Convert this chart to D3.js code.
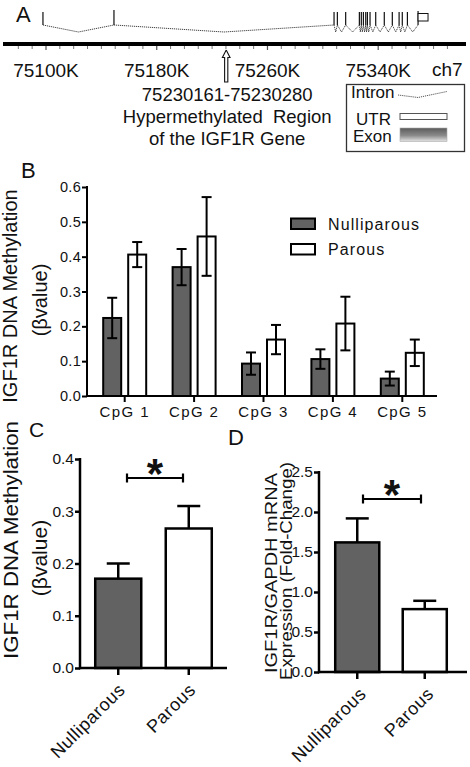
<!DOCTYPE html>
<html><head><meta charset="utf-8">
<script src="https://cdn.jsdelivr.net/npm/d3@7"></script>
<style>
body{margin:0;background:#fff}
svg{display:block}
text{font-family:"Liberation Sans",Arial,sans-serif;fill:#111}
</style>
</head><body>
<svg id="c" width="470" height="767"></svg>
<script>
// ---------- Panel A data (genomic positions, K = kb on ch7) ----------
const exonPositionsK = [75097.8, 75149.1, 75308.1, 75310.5, 75316.5, 75326.4, 75327.8, 75329.3,
  75331.0, 75332.2, 75334.1, 75338.2, 75344.4, 75350.2, 75355.1, 75357.4, 75361.1];
const utrRangeK = [75368.8, 75376.0];
const regionK = 75230.2;
const regionLines = ["75230161-75230280", "Hypermethylated  Region", "of the IGF1R Gene"];
const majorTicksK = [75100, 75180, 75260, 75340];
const minorTicksK = [75080, 75090, 75110, 75120, 75130, 75140, 75150, 75160, 75170, 75190, 75200,
  75210, 75220, 75230, 75240, 75250, 75270, 75280, 75290, 75300, 75310, 75320, 75330, 75350,
  75360, 75370, 75380, 75390];
const chromLabel = "ch7";
const legendItemsA = ["Intron", "UTR", "Exon"];

// ---------- Panel B data ----------
const cpgSites = ["CpG 1", "CpG 2", "CpG 3", "CpG 4", "CpG 5"];
const seriesNames = ["Nulliparous", "Parous"];
const nulliparousMeans = [0.224, 0.370, 0.093, 0.106, 0.050];
const nulliparousSE = [0.058, 0.052, 0.032, 0.028, 0.020];
const parousMeans = [0.406, 0.458, 0.162, 0.208, 0.124];
const parousSE = [0.036, 0.113, 0.042, 0.077, 0.038];
const bTicks = [0, 0.1, 0.2, 0.3, 0.4, 0.5, 0.6];

// ---------- Panel C data ----------
const groupNames = ["Nulliparous", "Parous"];
const cMeans = [0.171, 0.267];
const cSE = [0.029, 0.043];
const cTicks = [0, 0.1, 0.2, 0.3, 0.4];

// ---------- Panel D data ----------
const dMeans = [1.62, 0.786];
const dSE = [0.30, 0.104];
const dTicks = [0, 0.5, 1.0, 1.5, 2.0, 2.5];

const DARK = "#626262";
const svg = d3.select("#c");

function panelLabel(t, x, y, fs) {
  svg.append("text").attr("x", x).attr("y", y).attr("font-size", fs).text(t);
}

// =================== Panel A ===================
panelLabel("A", 16, 22, 22);
const gx = d3.scaleLinear().domain([75100, 75340]).range([46, 378.2]);
const gA = svg.append("g");
gA.append("line").attr("x1", 3).attr("x2", 466).attr("y1", 44).attr("y2", 44)
  .attr("stroke", "#000").attr("stroke-width", 4);
gA.selectAll(".mt").data(minorTicksK).enter().append("line")
  .attr("x1", d => gx(d)).attr("x2", d => gx(d)).attr("y1", 46).attr("y2", 49)
  .attr("stroke", "#777").attr("stroke-width", 1);
gA.selectAll(".Mt").data(majorTicksK).enter().append("line")
  .attr("x1", d => gx(d)).attr("x2", d => gx(d)).attr("y1", 46).attr("y2", 50)
  .attr("stroke", "#555").attr("stroke-width", 1.2);
gA.selectAll(".ml").data(majorTicksK).enter().append("text")
  .attr("x", d => gx(d)).attr("y", 77).attr("text-anchor", "middle").attr("font-size", 19)
  .text(d => d + "K");
gA.append("text").attr("x", 432).attr("y", 76).attr("font-size", 19).text(chromLabel);

// gene model
const exonTop = 12, exonBot = 25, intronDip = 32;
const exonXs = exonPositionsK.map(gx);
const utrX0 = gx(utrRangeK[0]), utrX1 = gx(utrRangeK[1]);
const allStarts = exonXs.concat([utrX0]);
const intronPts = [];
for (let i = 0; i < allStarts.length - 1; i++) {
  const a = allStarts[i], b = allStarts[i + 1];
  intronPts.push([[a, exonBot], [(a + b) / 2, intronDip], [b, exonBot]]);
}
gA.selectAll(".intr").data(intronPts).enter().append("path")
  .attr("d", d => d3.line()(d)).attr("fill", "none").attr("stroke", "#444")
  .attr("stroke-width", 1).attr("stroke-dasharray", "1.2,0.8");
gA.selectAll(".ex").data(exonXs).enter().append("line")
  .attr("x1", d => d).attr("x2", d => d).attr("y1", (d, i) => i === 1 ? 10 : exonTop).attr("y2", exonBot)
  .attr("stroke", "#111").attr("stroke-width", 1.2);
gA.append("line").attr("x1", utrX0).attr("x2", utrX0).attr("y1", 11).attr("y2", 25)
  .attr("stroke", "#111").attr("stroke-width", 1.2);
gA.append("rect").attr("x", utrX0).attr("y", 13.5).attr("width", utrX1 - utrX0).attr("height", 7.5)
  .attr("fill", "#fff").attr("stroke", "#111").attr("stroke-width", 1);

// arrow (hollow) pointing to region
const ax = gx(regionK);
gA.append("path")
  .attr("d", d3.line()([[ax, 50], [ax + 3.8, 57.5], [ax + 1.6, 57.5], [ax + 1.6, 82], [ax - 1.6, 82], [ax - 1.6, 57.5], [ax - 3.8, 57.5], [ax, 50]]))
  .attr("fill", "#fff").attr("stroke", "#111").attr("stroke-width", 1.1);
regionLines.forEach((t, i) => {
  gA.append("text").attr("x", ax + 1).attr("y", 101 + i * 22).attr("text-anchor", "middle")
    .attr("font-size", 18.5).style("white-space", "pre").text(t);
});

// legend box
const defs = svg.append("defs");
const grad = defs.append("linearGradient").attr("id", "exg").attr("x1", 0).attr("y1", 0).attr("x2", 0).attr("y2", 1);
grad.append("stop").attr("offset", "0").attr("stop-color", "#5a5a5a");
grad.append("stop").attr("offset", "0.55").attr("stop-color", "#8a8a8a");
grad.append("stop").attr("offset", "1").attr("stop-color", "#e4e4e4");
gA.append("rect").attr("x", 346.5).attr("y", 84.5).attr("width", 118).attr("height", 67)
  .attr("fill", "#fff").attr("stroke", "#333").attr("stroke-width", 1.3);
const legY = [98, 124.5, 142];
const legX = [351, 356, 353];
legendItemsA.forEach((t, i) => {
  gA.append("text").attr("x", legX[i]).attr("y", legY[i]).attr("font-size", 17).text(t);
});
gA.append("path").attr("d", d3.line()([[398, 95], [418, 97.5], [447, 91.5]]))
  .attr("fill", "none").attr("stroke", "#555").attr("stroke-width", 1).attr("stroke-dasharray", "1.2,0.9");
gA.append("rect").attr("x", 400).attr("y", 113.5).attr("width", 47).attr("height", 6)
  .attr("fill", "#fff").attr("stroke", "#555").attr("stroke-width", 1);
gA.append("rect").attr("x", 400).attr("y", 128).attr("width", 47).attr("height", 13.5)
  .attr("fill", "url(#exg)").attr("stroke", "#aaa").attr("stroke-width", 0.6);

// =================== Panel B ===================
panelLabel("B", 21, 178, 22);
const gB = svg.append("g");
const bx = d3.scaleBand().domain(cpgSites).range([90, 437]);
const bx1 = d3.scaleBand().domain(seriesNames).range([-21.5, 21.5]).paddingInner(0.28);
const by = d3.scaleLinear().domain([0, 0.6]).range([396, 187]);
const bData = cpgSites.map((c, i) => ({
  cat: c,
  vals: [
    { s: seriesNames[0], v: nulliparousMeans[i], e: nulliparousSE[i] },
    { s: seriesNames[1], v: parousMeans[i], e: parousSE[i] }
  ]
}));
const bg = gB.selectAll(".grp").data(bData).enter().append("g")
  .attr("transform", d => `translate(${bx(d.cat) + bx.bandwidth() / 2},0)`);
bg.selectAll("rect").data(d => d.vals).enter().append("rect")
  .attr("x", d => bx1(d.s)).attr("width", bx1.bandwidth())
  .attr("y", d => by(d.v)).attr("height", d => by(0) - by(d.v))
  .attr("fill", d => d.s === "Nulliparous" ? DARK : "#fff")
  .attr("stroke", "#000").attr("stroke-width", 2);
const eb = bg.selectAll(".eb").data(d => d.vals).enter().append("g")
  .attr("transform", d => `translate(${bx1(d.s) + bx1.bandwidth() / 2},0)`);
eb.append("line").attr("x1", 0).attr("x2", 0).attr("y1", d => by(d.v + d.e)).attr("y2", d => by(d.v - d.e))
  .attr("stroke", "#000").attr("stroke-width", 2);
eb.append("line").attr("x1", -5).attr("x2", 5).attr("y1", d => by(d.v + d.e)).attr("y2", d => by(d.v + d.e))
  .attr("stroke", "#000").attr("stroke-width", 2);
eb.append("line").attr("x1", -5).attr("x2", 5).attr("y1", d => by(d.v - d.e)).attr("y2", d => by(d.v - d.e))
  .attr("stroke", "#000").attr("stroke-width", 2);

const yAxB = gB.append("g").attr("transform", "translate(87,0)")
  .call(d3.axisLeft(by).tickValues(bTicks).tickFormat(d3.format(".1f")).tickSize(5).tickSizeOuter(0));
yAxB.select(".domain").remove();
yAxB.selectAll("line").attr("stroke-width", 2);
yAxB.selectAll("text").attr("font-size", 14.5).attr("letter-spacing", 0.3).attr("x", -6).attr("fill", "#111").attr("font-family", null);
gB.append("line").attr("x1", 87).attr("x2", 87).attr("y1", 186).attr("y2", 397).attr("stroke", "#000").attr("stroke-width", 2);
const xAxB = gB.append("g").attr("transform", "translate(0,396)")
  .call(d3.axisBottom(bx).tickSize(6).tickSizeOuter(0));
xAxB.select(".domain").remove();
xAxB.selectAll("line").attr("stroke-width", 2);
xAxB.selectAll("text").attr("font-size", 15).attr("letter-spacing", 1.4).attr("y", 10).attr("fill", "#111").attr("font-family", null);
gB.append("line").attr("x1", 86).attr("x2", 437).attr("y1", 396).attr("y2", 396).attr("stroke", "#000").attr("stroke-width", 2);

seriesNames.forEach((s, i) => {
  gB.append("rect").attr("x", 291).attr("y", 218.5 + i * 25.5).attr("width", 24).attr("height", 10.5)
    .attr("fill", i === 0 ? DARK : "#fff").attr("stroke", "#000").attr("stroke-width", 2);
  gB.append("text").attr("x", 328).attr("y", 230 + i * 25).attr("font-size", 16).attr("letter-spacing", 1.1).text(s);
});
gB.append("text").attr("transform", "translate(17,296) rotate(-90)").attr("text-anchor", "middle")
  .attr("font-size", 20).text("IGF1R DNA Methylation");
gB.append("text").attr("transform", "translate(47,300) rotate(-90)").attr("text-anchor", "middle")
  .attr("font-size", 20).text("(βvalue)");

// =================== Panels C & D ===================
function smallPanel(opt) {
  const g = svg.append("g");
  const x = d3.scaleBand().domain(groupNames).range(opt.xr).paddingInner(0.3475).paddingOuter(opt.po);
  const y = d3.scaleLinear().domain(opt.dom).range(opt.yr);
  const data = groupNames.map((n, i) => ({ n, v: opt.means[i], e: opt.se[i] }));
  g.selectAll("rect").data(data).enter().append("rect")
    .attr("x", d => x(d.n)).attr("width", x.bandwidth())
    .attr("y", d => y(d.v)).attr("height", d => y(0) - y(d.v))
    .attr("fill", d => d.n === "Nulliparous" ? DARK : "#fff")
    .attr("stroke", "#000").attr("stroke-width", 2.5);
  const e = g.selectAll(".e").data(data).enter().append("g")
    .attr("transform", d => `translate(${x(d.n) + x.bandwidth() / 2},0)`);
  e.append("line").attr("x1", 0).attr("x2", 0).attr("y1", d => y(d.v + d.e)).attr("y2", d => y(d.v))
    .attr("stroke", "#000").attr("stroke-width", 2.5);
  e.append("line").attr("x1", -11.5).attr("x2", 11.5).attr("y1", d => y(d.v + d.e)).attr("y2", d => y(d.v + d.e))
    .attr("stroke", "#000").attr("stroke-width", 2.5);
  const ya = g.append("g").attr("transform", `translate(${opt.ax},0)`)
    .call(d3.axisLeft(y).tickValues(opt.ticks).tickFormat(d3.format(".1f")).tickSize(5).tickSizeOuter(0));
  ya.select(".domain").remove();
  ya.selectAll("line").attr("stroke-width", 2.5);
  ya.selectAll("text").attr("font-size", 15.5).attr("x", -6).attr("fill", "#111").attr("font-family", null);
  g.append("line").attr("x1", opt.ax).attr("x2", opt.ax).attr("y1", opt.yr[1] - 1).attr("y2", opt.yr[0] + 1.2)
    .attr("stroke", "#000").attr("stroke-width", 2.5);
  const xa = g.append("g").attr("transform", `translate(0,${opt.yr[0]})`)
    .call(d3.axisBottom(x).tickSize(7).tickSizeOuter(0).tickFormat(""));
  xa.select(".domain").remove();
  xa.selectAll("line").attr("stroke-width", 2.5);
  g.append("line").attr("x1", opt.ax - 1).attr("x2", opt.xEnd).attr("y1", opt.yr[0]).attr("y2", opt.yr[0])
    .attr("stroke", "#000").attr("stroke-width", 2.5);
  g.selectAll(".xl").data(groupNames).enter().append("text")
    .attr("transform", d => `translate(${x(d) + x.bandwidth() / 2 + opt.lx},${opt.yr[0] + opt.ly}) rotate(-45)`)
    .attr("text-anchor", "end").attr("font-size", 18).attr("letter-spacing", 0.6).text(d => d);
  const sy = opt.sigY;
  g.append("line").attr("x1", opt.sig[0]).attr("x2", opt.sig[1]).attr("y1", sy).attr("y2", sy)
    .attr("stroke", "#000").attr("stroke-width", 2.2);
  [opt.sig[0], opt.sig[1]].forEach(sx => g.append("line").attr("x1", sx).attr("x2", sx)
    .attr("y1", sy - 4.5).attr("y2", sy + 4.5).attr("stroke", "#000").attr("stroke-width", 2.2));
  g.append("text").attr("x", (opt.sig[0] + opt.sig[1]) / 2).attr("y", opt.starY).attr("text-anchor", "middle")
    .attr("font-size", 42).attr("font-weight", "bold").text("*");
  return g;
}

panelLabel("C", 29, 437, 21);
const gC = smallPanel({
  xr: [80, 227], po: 0.216, dom: [0, 0.4], yr: [668, 459], ax: 80, xEnd: 227,
  means: cMeans, se: cSE, ticks: cTicks, lx: 8, ly: 23, sig: [127, 183], sigY: 478, starY: 488
});
gC.append("text").attr("transform", "translate(18,540) rotate(-90)").attr("text-anchor", "middle")
  .attr("font-size", 21).attr("textLength", 238).attr("lengthAdjust", "spacingAndGlyphs").text("IGF1R DNA Methylation");
gC.append("text").attr("transform", "translate(47,558) rotate(-90)").attr("text-anchor", "middle")
  .attr("font-size", 21).text("(βvalue)");

panelLabel("D", 228, 445, 22);
const gD = smallPanel({
  xr: [317, 465], po: 0.27, dom: [0, 2.5], yr: [672, 472], ax: 319, xEnd: 467,
  means: dMeans, se: dSE, ticks: dTicks, lx: 10, ly: 23, sig: [363, 421], sigY: 499, starY: 509
});
gD.append("text").attr("transform", "translate(277,573) rotate(-90)").attr("text-anchor", "middle")
  .attr("font-size", 17).attr("textLength", 200).attr("lengthAdjust", "spacingAndGlyphs").text("IGF1R/GAPDH mRNA");
gD.append("text").attr("transform", "translate(292,571) rotate(-90)").attr("text-anchor", "middle")
  .attr("font-size", 17).attr("textLength", 218).attr("lengthAdjust", "spacingAndGlyphs").text("Expression (Fold-Change)");
</script>
</body></html>
